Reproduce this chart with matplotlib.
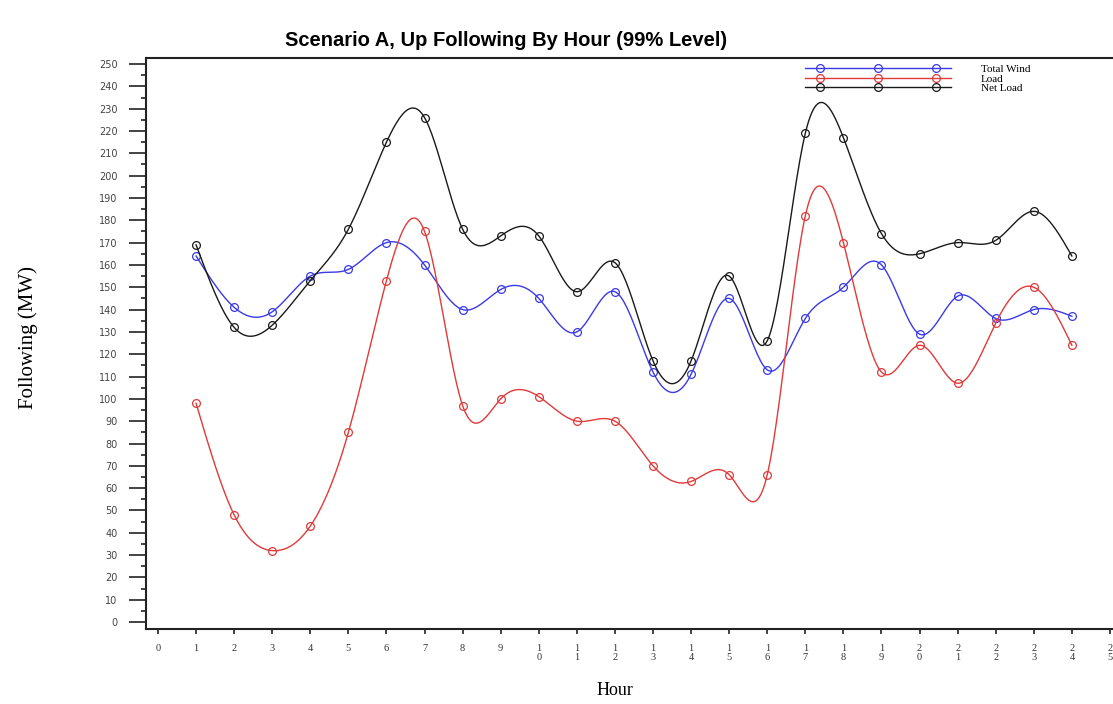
import numpy as np
import matplotlib
matplotlib.use("Agg")
import matplotlib.pyplot as plt
from matplotlib.ticker import MultipleLocator
from matplotlib.legend_handler import HandlerLine2D, HandlerTuple

hours = [1, 2, 3, 4, 5, 6, 7, 8, 9, 10, 11, 12,
         13, 14, 15, 16, 17, 18, 19, 20, 21, 22, 23, 24]
total_wind = [164, 141, 139, 155, 158, 170, 160, 140, 149, 145, 130, 148,
              112, 111, 145, 113, 136, 150, 160, 129, 146, 136, 140, 137]
load = [98, 48, 32, 43, 85, 153, 175, 97, 100, 101, 90, 90,
        70, 63, 66, 66, 182, 170, 112, 124, 107, 134, 150, 124]
net_load = [169, 132, 133, 153, 176, 215, 226, 176, 173, 173, 148, 161,
            117, 117, 155, 126, 219, 217, 174, 165, 170, 171, 184, 164]
hour_ticks = list(range(26))
series_names = ["Total Wind", "Load", "Net Load"]
series_colors = ["#3a3ae6", "#e03a3a", "#1a1a1a"]


def natural_spline(x, y, n=600):
    # natural cubic spline, used only to smooth the drawn line
    x = np.asarray(x, float)
    y = np.asarray(y, float)
    k = len(x)
    h = np.diff(x)
    A = np.zeros((k, k))
    b = np.zeros(k)
    A[0, 0] = A[-1, -1] = 1
    for i in range(1, k - 1):
        A[i, i - 1] = h[i - 1]
        A[i, i] = 2 * (h[i - 1] + h[i])
        A[i, i + 1] = h[i]
        b[i] = 6 * ((y[i + 1] - y[i]) / h[i] - (y[i] - y[i - 1]) / h[i - 1])
    M = np.linalg.solve(A, b)
    xs = np.linspace(x[0], x[-1], n)
    idx = np.clip(np.searchsorted(x, xs) - 1, 0, k - 2)
    x0, x1 = x[idx], x[idx + 1]
    hh = x1 - x0
    t0, t1 = x1 - xs, xs - x0
    ys = (M[idx] * t0 ** 3 + M[idx + 1] * t1 ** 3) / (6 * hh) \
        + (y[idx] / hh - M[idx] * hh / 6) * t0 \
        + (y[idx + 1] / hh - M[idx + 1] * hh / 6) * t1
    return xs, ys


fig = plt.figure(figsize=(11.13, 7.04), dpi=100)
ax = fig.add_axes([146 / 1113, 75 / 704, 967 / 1113, 571 / 704])

handles = []
hmap = {tuple: HandlerTuple(ndivide=1)}
for vals, name, col in zip([total_wind, load, net_load], series_names, series_colors):
    xs, ys = natural_spline(hours, vals)
    curve, = ax.plot(xs, ys, color=col, lw=1.0)
    dots, = ax.plot(hours, vals, ls="none", marker="o", ms=5.6, mfc="none",
                    mec=col, mew=0.9)
    hmap[curve] = HandlerLine2D(marker_pad=0)
    hmap[dots] = HandlerLine2D(marker_pad=1.35)
    handles.append((curve, dots))

ax.set_xlim(-0.315, 25.08)
ax.set_ylim(-3.1, 252.7)

serif = "Liberation Serif"
ax.set_xticks(hour_ticks)
ax.set_xticklabels(["\n".join(str(h)) for h in hour_ticks], family=serif,
                   fontsize=7.5, linespacing=1.0, color="#333333")
ax.yaxis.set_major_locator(MultipleLocator(10))
ax.yaxis.set_minor_locator(MultipleLocator(5))
for lab in ax.get_yticklabels():
    lab.set_fontsize(7)
    lab.set_color("#444444")
ax.tick_params(axis="y", which="major", length=12, width=1.2, pad=8.5,
               color="#222222")
ax.tick_params(axis="y", which="minor", length=3.8, width=1.2, color="#222222")
ax.tick_params(axis="x", length=3.6, width=1.2, pad=7, color="#222222")

ax.spines["right"].set_visible(False)
for s in ["left", "bottom", "top"]:
    ax.spines[s].set_linewidth(1.5)
    ax.spines[s].set_color("#222222")

ax.set_xlabel("Hour", family=serif, fontsize=13, va="center")
ax.xaxis.set_label_coords(0.485, -0.107)
ax.set_ylabel("Following (MW)", family=serif, fontsize=15, va="center")
ax.yaxis.set_label_coords(-0.122, 0.511)

fig.text(0.455, 0.943, "Scenario A, Up Following By Hour (99% Level)",
         family="Liberation Sans", fontweight="bold", fontsize=14.5,
         ha="center", va="center")

ax.legend(handles, series_names, handler_map=hmap, loc="upper left",
          bbox_to_anchor=(805 / 1113, 1 - 64 / 704), bbox_transform=fig.transFigure,
          frameon=False, borderpad=0, borderaxespad=0, handlelength=13.1,
          handletextpad=2.7, labelspacing=0.0, numpoints=3,
          prop={"family": serif, "size": 8})

fig.savefig("out.png", dpi=100)
